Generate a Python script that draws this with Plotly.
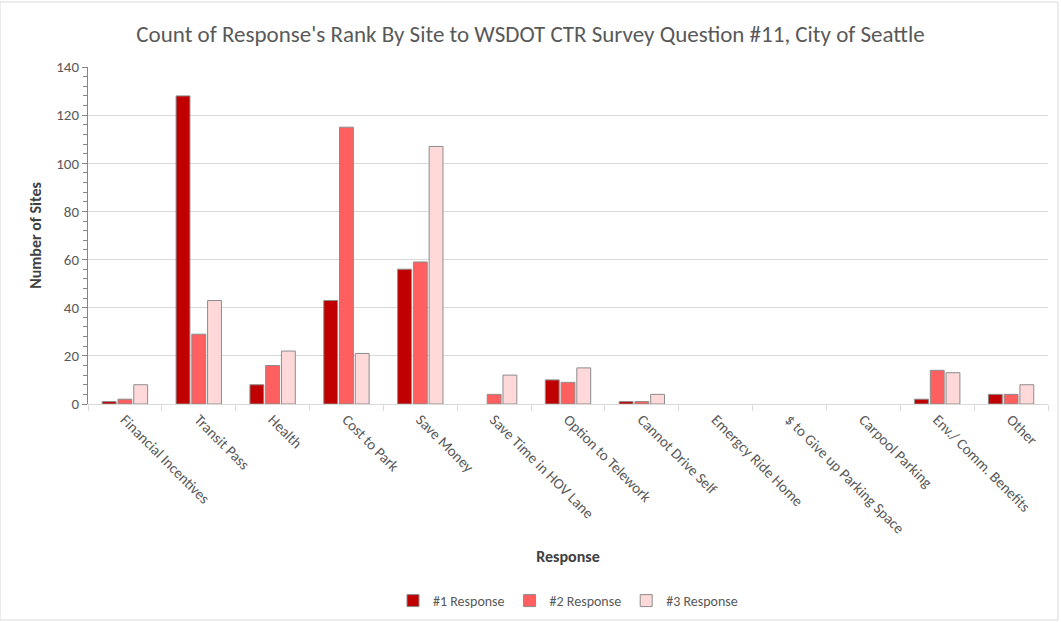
import plotly.graph_objects as go

categories = [
    "Financial Incentives", "Transit Pass", "Health", "Cost to Park", "Save Money",
    "Save Time in HOV Lane", "Option to Telework", "Cannot Drive Self",
    "Emergcy Ride Home", "$ to Give up Parking Space", "Carpool Parking",
    "Env./ Comm. Benefits", "Other",
]
response_1 = [1, 128, 8, 43, 56, 0, 10, 1, 0, 0, 0, 2, 4]
response_2 = [2, 29, 16, 115, 59, 4, 9, 1, 0, 0, 0, 14, 4]
response_3 = [8, 43, 22, 21, 107, 12, 15, 4, 0, 0, 0, 13, 8]
y_ticks = [0, 20, 40, 60, 80, 100, 120, 140]

series = [
    ("#1 Response", response_1, "#C00000"),
    ("#2 Response", response_2, "#FF5F5F"),
    ("#3 Response", response_3, "#FFD9D9"),
]

font_family = "Carlito, Calibri, Lato, sans-serif"

fig = go.Figure()
for name, vals, color in series:
    # no outline on empty bars
    widths = [1 if v else 0 for v in vals]
    fig.add_trace(go.Bar(
        x=categories, y=vals, name=name,
        marker=dict(color=color, line=dict(color="#8c8c8c", width=widths)),
    ))

fig.update_layout(
    width=1061, height=622,
    paper_bgcolor="white", plot_bgcolor="white",
    font=dict(family=font_family, color="#595959", size=15),
    title=dict(
        text="Count of Response's Rank By Site to WSDOT CTR Survey Question #11, City of Seattle",
        x=0.5, xanchor="center", y=0.945, yanchor="middle",
        font=dict(size=23, color="#595959"),
    ),
    barmode="group", bargap=0.36, bargroupgap=0.12,
    margin=dict(l=88, r=13, t=67, b=218, autoexpand=False),
    legend=dict(
        orientation="h", x=0.5, xanchor="center",
        yref="container", y=21 / 622, yanchor="middle",
        font=dict(size=14, color="#595959"), itemwidth=30,
    ),
    xaxis=dict(
        automargin=False,
        tickangle=45, tickson="boundaries", ticks="outside", ticklen=6,
        tickcolor="#d9d9d9", showline=True, linecolor="#d9d9d9", linewidth=1,
        tickfont=dict(size=15, color="#595959"),
        title=dict(text="<b>Response</b>", font=dict(size=16, color="#404040"), standoff=14),
    ),
    yaxis=dict(
        automargin=False,
        range=[0, 140], tickvals=y_ticks, showgrid=True, gridcolor="#d9d9d9",
        showline=True, linecolor="#868686", linewidth=1,
        ticks="outside", ticklen=5, tickcolor="#868686",
        minor=dict(dtick=4, ticks="outside", ticklen=4, tickcolor="#868686", showgrid=False),
        tickfont=dict(size=15, color="#595959"), zeroline=False,
        title=dict(text="<b>Number of Sites</b>", font=dict(size=16, color="#404040"), standoff=10),
    ),
    shapes=[dict(
        type="rect", xref="paper", yref="paper",
        x0=-88 / 960, x1=1 + 10 / 960, y0=-216 / 337, y1=1 + 65 / 337,
        line=dict(color="#d9d9d9", width=1),
    )],
)

fig.write_html("out.html")
